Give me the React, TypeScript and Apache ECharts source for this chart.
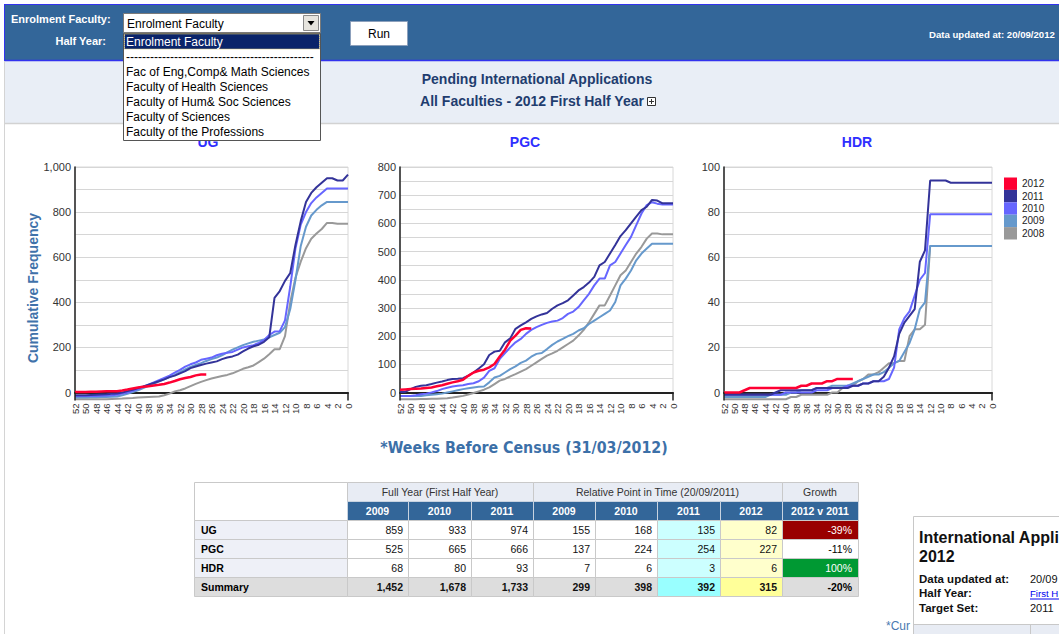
import React, { useEffect, useRef } from 'react';
import * as echarts from 'echarts';

// ---------- DATA ----------
const weeks = ['52','51','50','49','48','47','46','45','44','43','42','41','40','39','38','37','36','35','34','33','32','31','30','29','28','27','26','25','24','23','22','21','20','19','18','17','16','15','14','13','12','11','10','9','8','7','6','5','4','3','2','1','0'];
const years = ['2012', '2011', '2010', '2009', '2008'];
const chartTitles = ['UG', 'PGC', 'HDR'];
const yMaxes = [1000, 800, 100];
const yGridSteps = [100, 50, 10];
const yLabelSteps = [200, 100, 20];

const ug2012 = [2, 2, 2, 3, 3, 4, 5, 5, 6, 9, 13, 18, 22, 25, 28, 31, 34, 38, 44, 51, 59, 64, 69, 76, 80, 80];
const ug2011 = [-12, -12, -12, -11, -10, -9, -8, -6, -4, 0, 6, 12, 20, 27, 35, 42, 50, 58, 68, 75, 85, 95, 108, 115, 122, 128, 133, 138, 148, 155, 160, 168, 182, 195, 205, 212, 225, 245, 420, 450, 495, 530, 655, 760, 845, 885, 910, 930, 950, 950, 940, 940, 966];
const ug2010 = [-16, -16, -16, -15, -15, -14, -13, -12, -10, -5, 0, 8, 15, 25, 35, 45, 55, 65, 75, 88, 100, 115, 125, 133, 145, 150, 155, 165, 172, 176, 180, 190, 200, 205, 210, 220, 232, 255, 270, 272, 320, 470, 640, 745, 800, 840, 865, 885, 905, 905, 905, 905, 905];
const ug2009 = [-22, -22, -22, -21, -21, -20, -20, -19, -18, -12, -6, 2, 10, 20, 30, 40, 50, 58, 68, 78, 90, 102, 113, 122, 130, 140, 148, 155, 165, 178, 190, 200, 210, 218, 225, 230, 235, 245, 255, 265, 290, 370, 500, 650, 735, 785, 810, 830, 845, 845, 845, 845, 845];
const ug2008 = [-30, -30, -30, -30, -30, -30, -30, -29, -28, -27, -25, -24, -22, -21, -20, -19, -18, -12, -5, 5, 10, 18, 28, 38, 47, 55, 62, 68, 73, 78, 85, 95, 105, 112, 120, 135, 150, 170, 192, 192, 250, 400, 510, 580, 640, 682, 705, 725, 752, 752, 748, 748, 748];

const pgc2012 = [10, 11, 12, 13, 14, 16, 18, 22, 26, 31, 36, 40, 45, 59, 71, 77, 81, 89, 101, 128, 152, 184, 202, 222, 228, 227];
const pgc2011 = [2, 2, 12, 20, 24, 26, 30, 35, 39, 44, 48, 49, 51, 60, 71, 85, 100, 133, 145, 148, 178, 192, 226, 238, 249, 261, 270, 277, 282, 297, 309, 317, 327, 344, 362, 374, 390, 410, 451, 463, 493, 523, 555, 576, 600, 624, 647, 659, 683, 681, 671, 671, 671];
const pgc2010 = [-12, -12, -12, -10, -6, -4, 0, 5, 12, 17, 21, 24, 26, 30, 33, 40, 53, 77, 86, 119, 140, 160, 178, 190, 208, 222, 232, 240, 247, 252, 255, 264, 279, 287, 303, 327, 350, 380, 404, 404, 451, 463, 493, 523, 552, 594, 635, 665, 675, 670, 667, 667, 667];
const pgc2009 = [-12, -12, -12, -12, -12, -10, -8, -6, -4, 0, 4, 8, 12, 15, 18, 20, 21, 36, 53, 59, 71, 83, 93, 105, 113, 127, 137, 140, 154, 169, 181, 190, 200, 208, 220, 228, 243, 255, 267, 279, 291, 321, 380, 404, 433, 469, 493, 511, 528, 528, 528, 528, 528];
const pgc2008 = [-24, -24, -24, -24, -23, -23, -22, -22, -21, -20, -18, -15, -12, -7, -2, 4, 10, 18, 30, 42, 48, 57, 65, 74, 83, 95, 107, 119, 131, 139, 148, 160, 172, 184, 202, 222, 249, 279, 309, 309, 344, 380, 416, 433, 463, 493, 517, 546, 564, 564, 561, 561, 561];

const hdr2012 = [0, 0, 0, 0, 1, 2, 2, 2, 2, 2, 2, 2, 2, 2, 2, 3, 3, 4, 4, 4, 5, 5, 6, 6, 6, 6];
const hdr2011 = [-1, -1, -1, -1, -1, -1, -1, -1, -1, -1, 0, 1, 1, 1, 1, 1, 1, 1, 2, 2, 2, 2, 2, 2, 2, 3, 3, 4, 4, 5, 5, 7, 11, 16, 26, 31, 34, 37, 58, 63, 94, 94, 94, 94, 93, 93, 93, 93, 93, 93, 93, 93, 93];
const hdr2010 = [-1, -1, -1, -1, -1, -1, -1, -1, -1, -1, -1, -1, 0, 0, 0, 0, 0, 0, 1, 1, 1, 2, 2, 2, 3, 3, 3, 4, 4, 5, 5, 5, 6, 11, 28, 33, 36, 43, 50, 53, 79, 79, 79, 79, 79, 79, 79, 79, 79, 79, 79, 79, 79];
const hdr2009 = [-2, -2, -2, -2, -2, -2, -2, -2, -2, -1, -1, -1, -1, 0, 0, 1, 1, 1, 2, 2, 2, 3, 3, 3, 3, 4, 5, 6, 7, 8, 8, 9, 11, 13, 14, 18, 22, 28, 37, 40, 65, 65, 65, 65, 65, 65, 65, 65, 65, 65, 65, 65, 65];
const hdr2008 = [-3, -3, -3, -3, -3, -3, -3, -3, -3, -3, -3, -3, -3, -2, -2, -1, -1, -1, -1, -1, -1, 0, 0, 2, 3, 3, 5, 6, 8, 8, 9, 11, 13, 13, 14, 14, 25, 28, 28, 30, 65, 65, 65, 65, 65, 65, 65, 65, 65, 65, 65, 65, 65];

const chartSeries = [
  [ug2012, ug2011, ug2010, ug2009, ug2008],
  [pgc2012, pgc2011, pgc2010, pgc2009, pgc2008],
  [hdr2012, hdr2011, hdr2010, hdr2009, hdr2008],
];

// table
const tableRowLabels = ['UG', 'PGC', 'HDR', 'Summary'];
const tableGroupHeaders = ['Full Year (First Half Year)', 'Relative Point in Time (20/09/2011)', 'Growth'];
const tableColHeaders = ['2009', '2010', '2011', '2009', '2010', '2011', '2012', '2012 v 2011'];
const fullYear2009 = [859, 525, 68, 1452];
const fullYear2010 = [933, 665, 80, 1678];
const fullYear2011 = [974, 666, 93, 1733];
const relative2009 = [155, 137, 7, 299];
const relative2010 = [168, 224, 6, 398];
const relative2011 = [135, 254, 3, 392];
const relative2012 = [82, 227, 6, 315];
const growth2012v2011 = ['-39%', '-11%', '100%', '-20%'];

const facultyOptions = ['Fac of Eng,Comp& Math Sciences', 'Faculty of Health Sciences', 'Faculty of Hum& Soc Sciences', 'Faculty of Sciences', 'Faculty of the Professions'];

// visible (cut-off) texts of the side panel, as they show in the page
const panelTitle = ['International Appli', '2012'];
const infoLabels = ['Data updated at:', 'Half Year:', 'Target Set:'];
const infoValues = ['20/09', 'First H', '2011'];

// ---------- STYLE ----------
const yearColors = ['#ff0033', '#333399', '#6666ff', '#6699cc', '#999999'];
const FONT = 'Liberation Sans, Arial, sans-serif';
const grids = [
  { left: 75, top: 167, width: 273, height: 225.5, titleX: 208 },
  { left: 400, top: 167, width: 273, height: 225.5, titleX: 525 },
  { left: 724, top: 167, width: 268, height: 225.5, titleX: 857 },
];
const AXIS_OFFSET = 8;

function T(x: number, y: number, text: string, o: any = {}) {
  return {
    type: 'text', x, y, z: o.z ?? 10, rotation: o.rotation ?? 0,
    style: {
      text, fill: o.fill ?? '#000', fontSize: o.size ?? 12, fontFamily: o.family ?? FONT,
      fontWeight: o.weight ?? 'normal', align: o.align ?? 'left', verticalAlign: 'middle',
    },
  };
}
function R(x: number, y: number, w: number, h: number, fill: string, stroke?: string, z = 1, extra: any = {}) {
  return { type: 'rect', z, shape: { x, y, width: w, height: h }, style: { fill, stroke: stroke ?? null, lineWidth: 1, ...extra } };
}
function L(x1: number, y1: number, x2: number, y2: number, stroke: string, lw = 1, z = 2) {
  return { type: 'line', z, shape: { x1, y1, x2, y2 }, style: { stroke, lineWidth: lw } };
}

function buildGraphics() {
  const g: any[] = [];
  // header band
  g.push(R(4, 4, 1055, 57, '#336699', undefined, 1));
  g.push(L(4, 4.5, 1059, 4.5, '#3333ee', 1, 2));
  g.push(L(4.5, 4, 4.5, 61, '#3333ee', 1, 2));
  g.push(L(4, 60.5, 1059, 60.5, '#3333ee', 1.5, 2));
  // light band
  g.push(R(4, 61, 1055, 62, '#e9eef6', undefined, 1));
  g.push(L(4, 123.5, 1059, 123.5, '#d2d2d2', 1.5, 2));
  g.push(L(4.5, 61, 4.5, 634, '#d4d4d4', 1, 2));
  // header controls
  g.push(T(11, 19, 'Enrolment Faculty:', { fill: '#fff', weight: 'bold', size: 11 }));
  g.push(T(106, 40.5, 'Half Year:', { fill: '#fff', weight: 'bold', size: 11, align: 'right' }));
  g.push(R(350.5, 21.5, 57, 24, '#fff', '#8ca0bc', 5));
  g.push(T(379, 33.5, 'Run', { align: 'center', size: 12, z: 6 }));
  g.push(T(929, 34.5, 'Data updated at: 20/09/2012', { fill: '#fff', weight: 'bold', size: 9.6 }));
  // titles
  g.push(T(537, 79, 'Pending International Applications', { fill: '#1f3d6f', weight: 'bold', size: 14, align: 'center' }));
  g.push(T(532, 101, 'All Faculties - 2012 First Half Year', { fill: '#1f3d6f', weight: 'bold', size: 14, align: 'center' }));
  g.push(R(647.5, 97.5, 8, 8, '#fff', '#333', 5));
  g.push(L(649, 101.5, 654, 101.5, '#333', 1, 6));
  g.push(L(651.5, 99, 651.5, 104, '#333', 1, 6));
  // chart titles
  grids.forEach((gr, i) => {
    g.push(T(gr.titleX, 142, chartTitles[i], { fill: '#2e2eff', weight: 'bold', size: 14, align: 'center', z: 10 }));
    const yb = gr.top + gr.height;
    g.push(L(gr.left, yb, gr.left, yb + AXIS_OFFSET, '#222', 1.5, 5));
    g.push(L(gr.left + gr.width, yb, gr.left + gr.width, yb + AXIS_OFFSET, '#222', 1.5, 5));
  });
  g.push(T(33, 288, 'Cumulative Frequency', { fill: '#3f72aa', weight: 'bold', size: 14, align: 'center', rotation: Math.PI / 2 }));
  g.push(T(524, 447, '*Weeks Before Census (31/03/2012)', { fill: '#3c70a8', weight: 'bold', size: 15.8, align: 'center', family: 'DejaVu Sans Condensed, sans-serif' }));

  // dropdown (on top)
  const DZ = 100;
  g.push(R(123.5, 13.5, 197, 19, '#fff', '#7a7a7a', DZ));
  g.push(T(127, 23.5, 'Enrolment Faculty', { size: 12, z: DZ + 1 }));
  g.push(R(303.5, 15.5, 15, 15, '#e6e4de', '#8a8a8a', DZ + 1));
  g.push({ type: 'polygon', z: DZ + 2, shape: { points: [[307.5, 21], [314.5, 21], [311, 25.5]] }, style: { fill: '#000' } });
  g.push(R(123.5, 33.5, 197, 107, '#fff', '#555', DZ));
  g.push(R(124.5, 34, 195, 15, '#0a246a', undefined, DZ + 1));
  g.push(R(124.5, 34, 195, 15, 'none', '#d8c878', DZ + 2, { lineDash: [1, 1] }));
  g.push(T(126, 42, 'Enrolment Faculty', { size: 12, fill: '#fff', z: DZ + 3 }));
  g.push(T(126, 57, '-----------------------------------------------', { size: 12, fill: '#000', z: DZ + 3 }));
  facultyOptions.forEach((f, i) => g.push(T(126, 72 + i * 15, f, { size: 12, z: DZ + 3 })));

  // table
  const cx = [194, 347, 408, 471, 533, 595, 657, 720, 782, 858];
  const ry = [482, 501, 520, 539, 558, 577, 596];
  const border = '#c9c9c9';
  const TF = 10.5;
  g.push(R(cx[0] + 0.5, ry[0] + 0.5, cx[1] - cx[0], ry[2] - ry[0], '#ffffff', border, 3));
  const spans = [[1, 4], [4, 8], [8, 9]];
  spans.forEach(([a, b], i) => {
    g.push(R(cx[a] + 0.5, ry[0] + 0.5, cx[b] - cx[a], ry[1] - ry[0], '#e8ecf4', border, 3));
    g.push(T((cx[a] + cx[b]) / 2, (ry[0] + ry[1]) / 2 + 0.5, tableGroupHeaders[i], { size: TF, fill: '#333', align: 'center', z: 4 }));
  });
  tableColHeaders.forEach((h, j) => {
    g.push(R(cx[j + 1] + 0.5, ry[1] + 0.5, cx[j + 2] - cx[j + 1], ry[2] - ry[1], '#336699', '#c8d3e0', 3));
    g.push(T((cx[j + 1] + cx[j + 2]) / 2, (ry[1] + ry[2]) / 2 + 0.5, h, { size: TF, fill: '#fff', weight: 'bold', align: 'center', z: 4 }));
  });
  const cols = [fullYear2009, fullYear2010, fullYear2011, relative2009, relative2010, relative2011, relative2012];
  const growthFill = ['#990000', '#ffffff', '#009933', '#dddddd'];
  const growthText = ['#fff', '#000', '#fff', '#000'];
  tableRowLabels.forEach((lab, r) => {
    const y0 = ry[r + 2], y1 = ry[r + 3];
    const summary = r === 3;
    const ym = (y0 + y1) / 2 + 0.5;
    g.push(R(cx[0] + 0.5, y0 + 0.5, cx[1] - cx[0], y1 - y0, summary ? '#dddddd' : '#eef0f7', border, 3));
    g.push(T(cx[0] + 7, ym, lab, { size: TF, weight: 'bold', z: 4 }));
    cols.forEach((arr, j) => {
      let fill = summary ? '#dddddd' : '#ffffff';
      if (j === 5) fill = summary ? '#99ffff' : '#ccffff';
      if (j === 6) fill = summary ? '#ffff99' : '#ffffcc';
      g.push(R(cx[j + 1] + 0.5, y0 + 0.5, cx[j + 2] - cx[j + 1], y1 - y0, fill, border, 3));
      g.push(T(cx[j + 2] - 5, ym, arr[r].toLocaleString('en-US'), { size: TF, weight: summary ? 'bold' : 'normal', align: 'right', z: 4, fill: '#111' }));
    });
    g.push(R(cx[8] + 0.5, y0 + 0.5, cx[9] - cx[8], y1 - y0, growthFill[r], border, 3));
    g.push(T(cx[9] - 6, ym, growth2012v2011[r], { size: TF, weight: summary ? 'bold' : 'normal', align: 'right', z: 4, fill: growthText[r] }));
  });

  // bottom-right panel
  g.push(T(886, 626, '*Cur', { size: 12, fill: '#4a7ab0', z: 3 }));
  g.push(R(913.5, 516.5, 160, 130, '#fff', '#c8c8c8', 5));
  g.push(T(919, 537, panelTitle[0], { size: 16, weight: 'bold', fill: '#111', z: 6 }));
  g.push(T(919, 556, panelTitle[1], { size: 16, weight: 'bold', fill: '#111', z: 6 }));
  infoLabels.forEach((l, i) => {
    const y = 579 + i * 14.3;
    g.push(T(919, y, l, { size: 11.5, weight: 'bold', fill: '#111', z: 6 }));
    g.push(T(1030, y, infoValues[i], { size: i === 1 ? 9.6 : 11, fill: i === 1 ? '#0000ee' : '#111', z: 6 }));
  });
  g.push(L(1030, 599, 1059, 599, '#0000ee', 1, 7));
  g.push(R(914, 624, 145, 12, '#e8ecf4', undefined, 6));
  g.push(L(914, 624.5, 1059, 624.5, '#c8c8c8', 1, 7));
  g.push(L(1030.5, 624, 1030.5, 634, '#c8c8c8', 1, 7));
  return g;
}

function buildOption(): any {
  const xAxis = grids.map((_, i) => ({
    type: 'category', gridIndex: i, data: weeks, boundaryGap: false, offset: AXIS_OFFSET,
    axisLine: { show: true, lineStyle: { color: '#222', width: 2 } },
    axisTick: { show: false },
    splitLine: { show: false },
    axisLabel: { interval: 1, rotate: 90, fontSize: 9.5, color: '#333', margin: 3, fontFamily: FONT },
  }));
  const yAxis = grids.map((_, i) => ({
    type: 'value', gridIndex: i, min: 0, max: yMaxes[i], interval: yGridSteps[i],
    axisLine: { show: true, lineStyle: { color: '#222', width: 1.5 } },
    axisTick: { show: false },
    splitLine: { show: true, lineStyle: { color: '#d6d6d6', width: 1 } },
    axisLabel: {
      fontSize: 11, color: '#333', margin: 4, fontFamily: FONT,
      formatter: (v: number) => (Math.round(v) % yLabelSteps[i] === 0 ? v.toLocaleString('en-US') : ''),
    },
  }));
  const series: any[] = [];
  chartSeries.forEach((set, ci) => {
    for (let k = years.length - 1; k >= 0; k--) {
      series.push({
        type: 'line', name: years[k], xAxisIndex: ci, yAxisIndex: ci, data: set[k],
        symbol: 'none', showSymbol: false, clip: false, silent: true,
        lineStyle: { color: yearColors[k], width: k === 0 ? 2.5 : 2 },
        itemStyle: { color: yearColors[k] },
        z: 3,
      });
    }
  });
  return {
    animation: false,
    backgroundColor: '#ffffff',
    grid: grids.map((g) => ({ left: g.left, top: g.top, width: g.width, height: g.height, show: true, borderColor: '#d8d8d8', borderWidth: 1, backgroundColor: 'transparent', containLabel: false })),
    xAxis, yAxis, series,
    legend: {
      data: years, orient: 'vertical', left: 1004, top: 177.5, itemWidth: 13, itemHeight: 12.4, itemGap: 0,
      icon: 'rect', padding: 0, selectedMode: false,
      textStyle: { fontSize: 10, color: '#222', fontFamily: FONT, lineHeight: 12.4, padding: [0, 0, 0, 0] },
    },
    graphic: { elements: buildGraphics() },
  };
}

export default function App() {
  const ref = useRef<HTMLDivElement>(null);
  useEffect(() => {
    document.body.style.margin = '0';
    const chart = echarts.init(ref.current!, undefined, { renderer: 'svg', width: 1059, height: 634 });
    chart.setOption(buildOption());
    return () => chart.dispose();
  }, []);
  return <div ref={ref} style={{ width: 1059, height: 634, position: 'absolute', left: 0, top: 0 }} />;
}
